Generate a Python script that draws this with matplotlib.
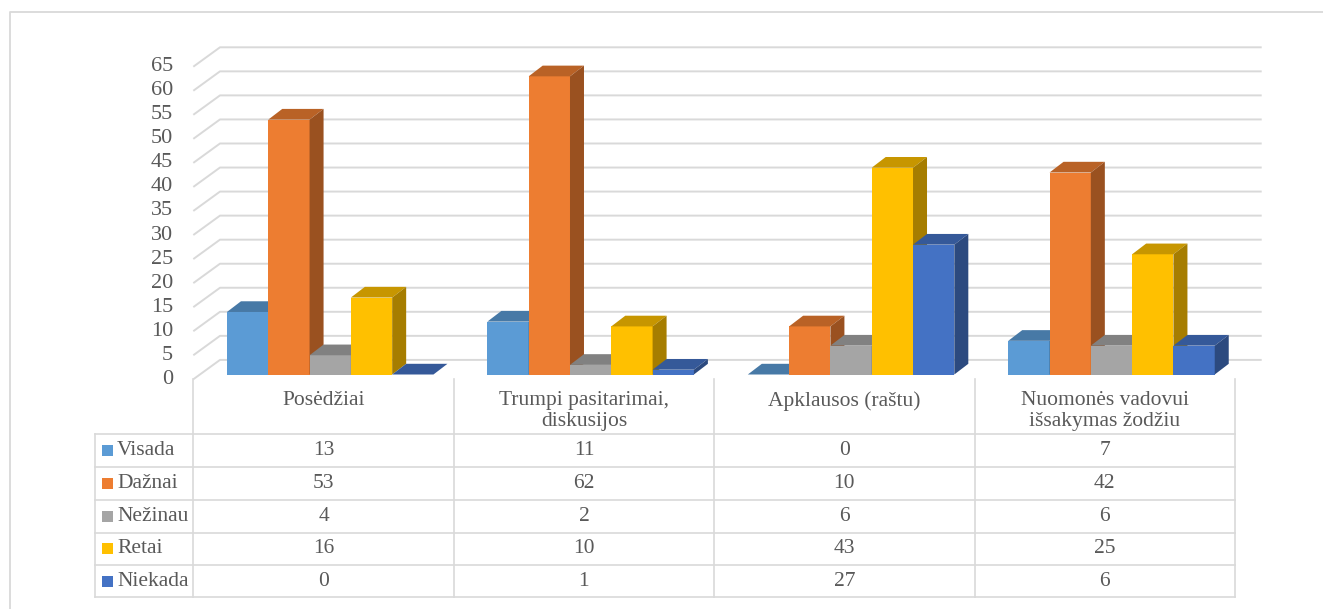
import numpy as np
import matplotlib
matplotlib.use("Agg")
import matplotlib.pyplot as plt
from matplotlib.patches import Polygon
from matplotlib.colors import to_rgb

categories = ["Posėdžiai", "Trumpi pasitarimai,\ndiskusijos", "Apklausos (raštu)",
              "Nuomonės vadovui\nišsakymas žodžiu"]
series = ["Visada", "Dažnai", "Nežinau", "Retai", "Niekada"]
visada = [13, 11, 0, 7]
daznai = [53, 62, 10, 42]
nezinau = [4, 2, 6, 6]
retai = [16, 10, 43, 25]
niekada = [0, 1, 27, 6]
values = [visada, daznai, nezinau, retai, niekada]
colors = ["#5B9BD5", "#ED7D31", "#A5A5A5", "#FFC000", "#4472C4"]
yticks = list(range(0, 70, 5))

plt.rcParams['font.family'] = ['Liberation Serif', 'DejaVu Serif']
txt = "#595959"
grid = "#D9D9D9"

W, H = 1323, 609
fig = plt.figure(figsize=(W / 100, H / 100), dpi=100)

# overlay in pixel space for frame + table
ov = fig.add_axes([0, 0, 1, 1], zorder=0)
ov.set_xlim(0, W)
ov.set_ylim(H, 0)
ov.axis('off')

# front plane of the 3d plot
x0, x1 = 193.3, 1235.0
y0, ytop = 379.3, 66.7
ax = fig.add_axes([x0 / W, 1 - y0 / H, (x1 - x0) / W, (y0 - ytop) / H], zorder=1)
ax.set_xlim(-0.5, 3.5)
ax.set_ylim(0, 65)
ax.axis('off')
ax.patch.set_alpha(0)

pxx = (x1 - x0) / 4.0   # px per category
pxy = (y0 - ytop) / 65  # px per unit
wdx, wdy = 26.7 / pxx, 19.4 / pxy     # wall depth
fdx, fdy = 6.7 / pxx, 4.8 / pxy       # bar front offset
bdx, bdy = 14.0 / pxx, 10.7 / pxy     # bar depth
bw = 41.3 / pxx

# back wall grid
for v in yticks:
    ax.plot([-0.5, -0.5 + wdx, 3.5 + wdx], [v, v + wdy, v + wdy], color=grid,
            lw=1.4, clip_on=False, zorder=1, solid_capstyle='butt')
    ax.text(-0.5 - 20 / pxx, v, str(v), ha='right', va='center', fontsize=16,
            color=txt, clip_on=False)

def shade(c, f):
    r, g, b = to_rgb(c)
    return (r * f, g * f, b * f)

z = 2
for i in range(len(categories)):
    for j in range(len(series)):
        v = values[j][i]
        xl = i + (j - 2) * bw - bw / 2 + fdx
        xr = xl + bw
        top = fdy + v
        ax.bar(xl, v, width=bw, bottom=fdy, align='edge', color=colors[j],
               zorder=z, clip_on=False, lw=0)
        ax.add_patch(Polygon([(xl, top), (xr, top), (xr + bdx, top + bdy), (xl + bdx, top + bdy)],
                             closed=True, fc=shade(colors[j], 0.78), lw=0, zorder=z, clip_on=False))
        if v > 0:
            ax.add_patch(Polygon([(xr, fdy), (xr + bdx, fdy + bdy), (xr + bdx, top + bdy), (xr, top)],
                                 closed=True, fc=shade(colors[j], 0.65), lw=0, zorder=z, clip_on=False))
        z += 1

# outer frame
ov.plot([10, 10, W], [H, 11.5, 11.5], color=grid, lw=1.3)

# table
cols = [x0 + k * pxx for k in range(5)]
rows = [434, 467, 500, 532.5, 565, 597]
lkw = dict(color=grid, lw=1.2)
for cx in cols:
    ov.plot([cx, cx], [y0, rows[-1]], **lkw)
ov.plot([95, 95], [rows[0], rows[-1]], **lkw)
for ry in rows:
    ov.plot([95, x1], [ry, ry], **lkw)

for i, c in enumerate(categories):
    cx = (cols[i] + cols[i + 1]) / 2
    ov.text(cx, 391, c, ha='center', va='top', fontsize=15.5, color=txt, linespacing=1.15)

for j, s in enumerate(series):
    cy = (rows[j] + rows[j + 1]) / 2
    ov.add_patch(plt.Rectangle((101.7, cy - 5.5), 11, 11, color=colors[j], lw=0))
    ov.text(117, cy, s, ha='left', va='center', fontsize=15.5, color=txt)
    for i in range(len(categories)):
        cx = (cols[i] + cols[i + 1]) / 2
        ov.text(cx, cy, str(values[j][i]), ha='center', va='center', fontsize=15.5, color=txt)

fig.savefig("out.png", dpi=100)
